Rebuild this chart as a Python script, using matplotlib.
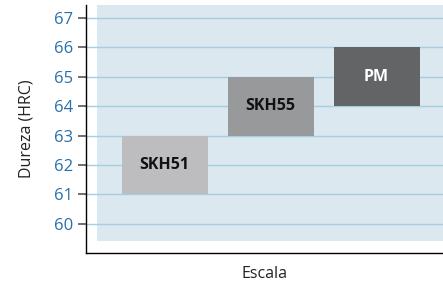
import matplotlib
matplotlib.use("Agg")
import matplotlib.pyplot as plt
from matplotlib.patches import Rectangle

grades = ["SKH51", "SKH55", "PM"]
hrc_low = [61, 63, 64]
hrc_high = [63, 65, 66]
bar_colors = ["#bdbdbf", "#98999b", "#636466"]
label_colors = ["#111111", "#111111", "#ffffff"]
yticks = [60, 61, 62, 63, 64, 65, 66, 67]

plt.rcParams["font.family"] = ["Open Sans", "DejaVu Sans"]

fig = plt.figure(figsize=(4.43, 2.86), dpi=100)
ax = fig.add_axes([0.194, 0.115, 0.806, 0.868])

ax.set_xlim(-0.745, 2.62)
ax.set_ylim(59, 67.45)

# light blue panel
ax.add_patch(Rectangle((-0.64, 59.4), 3.4, 8.2, facecolor="#dbe8f0",
                       edgecolor="none", zorder=0))

for y in yticks:
    ax.axhline(y, color="#a6cde0", lw=1.0, zorder=1)

x = range(len(grades))
heights = [h - l for l, h in zip(hrc_low, hrc_high)]
ax.bar(x, heights, bottom=hrc_low, width=0.81, color=bar_colors, zorder=2)

for i, name in enumerate(grades):
    ax.text(i - 0.01, (hrc_low[i] + hrc_high[i]) / 2, name, ha="center", va="center",
            fontsize=11.5, fontweight="bold", color=label_colors[i], zorder=3)

ax.set_yticks(yticks)
ax.set_xticks([])
ax.tick_params(axis="y", direction="out", length=6, width=1.2,
               color="#555555", labelcolor="#2a6fa8", labelsize=12, pad=3)

ax.spines["top"].set_visible(False)
ax.spines["right"].set_visible(False)
ax.spines["left"].set_linewidth(1.0)
ax.spines["bottom"].set_linewidth(1.0)

ax.set_ylabel("Dureza (HRC)", fontsize=11.5, color="#222222", labelpad=14)
ax.set_xlabel("Escala", fontsize=11.5, color="#222222", labelpad=9)

fig.savefig("out.png", dpi=100)
